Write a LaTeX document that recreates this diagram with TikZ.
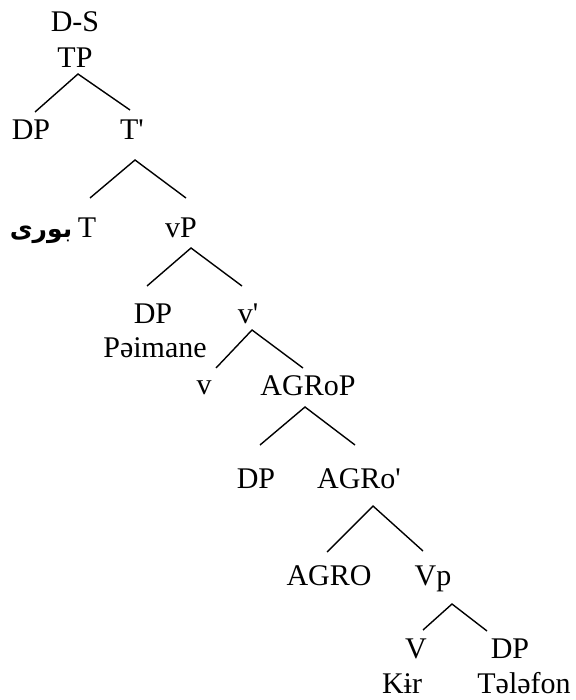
\documentclass[tikz,border=0pt]{standalone}
\usepackage{fontspec}
\setmainfont{Liberation Serif}[Ligatures=TeXOff]
\newfontfamily\arabicfont[Script=Arabic]{DejaVu Sans}
\TeXXeTstate=1
\begin{document}
\begin{tikzpicture}[x=1pt,y=-1pt,
  lbl/.style={anchor=base,inner sep=0pt,font=\fontsize{30}{36}\selectfont},
  edge/.style={line width=1.4pt}]
\useasboundingbox (0,0) rectangle (575,700);
% labels
\node[lbl] (DS) at (75,32) {D-S};
\node[lbl] (TP) at (75,68) {TP};
\node[lbl] (DP1) at (31,140) {DP};
\node[lbl] (Tbar) at (132,140) {T'};
\node[lbl] (T) at (87,237) {T};
\node[anchor=base,inner sep=0pt,font=\fontsize{25}{30}\selectfont] (bori) at (41,237) {\arabicfont\bfseries\beginR بوری\endR};
\node[lbl] (vP) at (181,237) {vP};
\node[lbl] (DP2) at (153,323) {DP};
\node[lbl] (Paimane) at (155,357) {Pəimane};
\node[lbl] (vbar) at (248,323) {v'};
\node[lbl] (v) at (204,394) {v};
\node[lbl] (AGRoP) at (308,395) {AGRoP};
\node[lbl] (DP3) at (256,488) {DP};
\node[lbl] (AGRobar) at (359,488) {AGRo'};
\node[lbl] (AGRO) at (329,585) {AGRO};
\node[lbl] (Vp) at (433,585) {Vp};
\node[lbl] (V) at (416,658) {V};
\node[lbl] (DP4) at (510,658) {DP};
\node[lbl] (Kir) at (402,693) {Kɨr};
\node[lbl] (Telefon) at (524,693) {Tələfon};
% branch points
\coordinate (TPa) at (78,74);   \coordinate (TPl) at (35,112);  \coordinate (TPr) at (130,110);
\coordinate (Tba) at (135,160); \coordinate (Tbl) at (90,198);  \coordinate (Tbr) at (186,198);
\coordinate (vPa) at (191,248); \coordinate (vPl) at (147,286); \coordinate (vPr) at (242,286);
\coordinate (vba) at (252,330); \coordinate (vbl) at (216,368); \coordinate (vbr) at (303,368);
\coordinate (AGa) at (305,407); \coordinate (AGl) at (260,445); \coordinate (AGr) at (355,445);
\coordinate (Aba) at (373,506); \coordinate (Abl) at (327,552); \coordinate (Abr) at (423,551);
\coordinate (Vpa) at (452,604); \coordinate (Vpl) at (423,630); \coordinate (Vpr) at (487,631);
% branches
\draw[edge] (TPl) -- (TPa) -- (TPr);
\draw[edge] (Tbl) -- (Tba) -- (Tbr);
\draw[edge] (vPl) -- (vPa) -- (vPr);
\draw[edge] (vbl) -- (vba) -- (vbr);
\draw[edge] (AGl) -- (AGa) -- (AGr);
\draw[edge] (Abl) -- (Aba) -- (Abr);
\draw[edge] (Vpl) -- (Vpa) -- (Vpr);
\end{tikzpicture}
\end{document}
